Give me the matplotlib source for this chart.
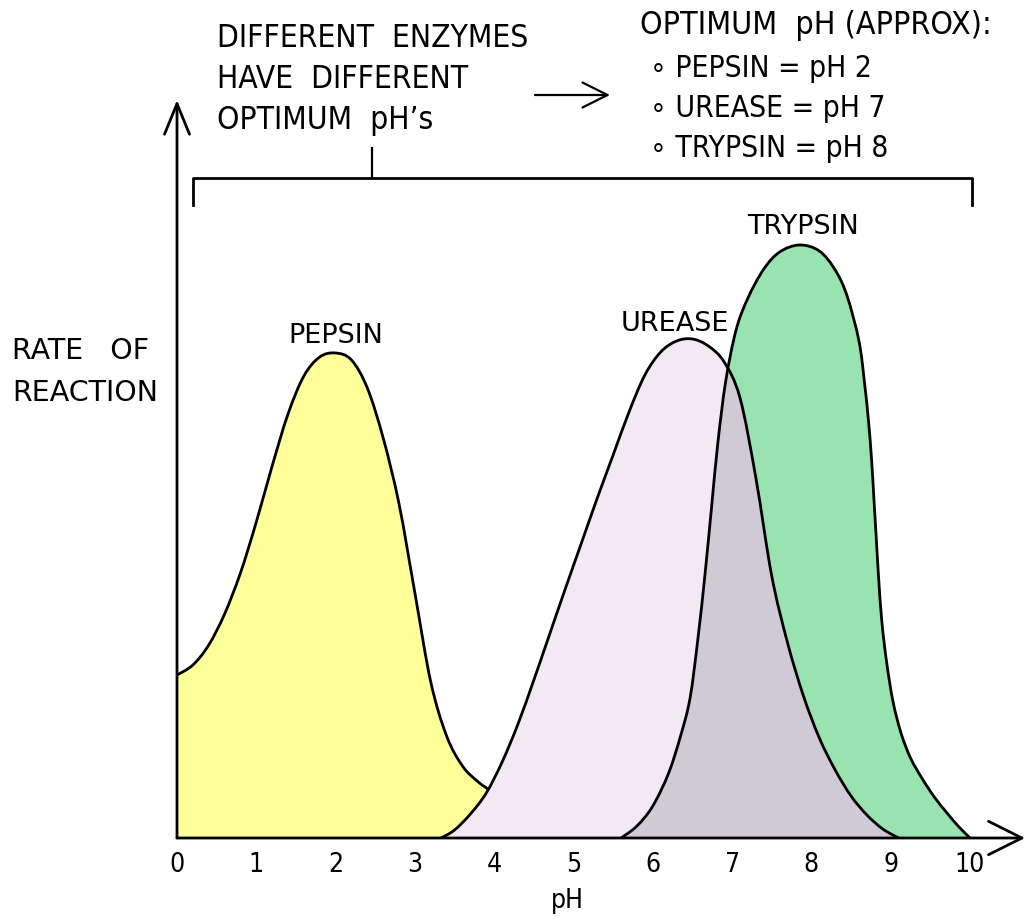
import numpy as np
import matplotlib
matplotlib.use('Agg')
import matplotlib.pyplot as plt
from matplotlib.patches import PathPatch
from matplotlib.path import Path

# values: pH against rate of reaction (arbitrary units)
pepsin_ph = [0.0, 0.2, 0.4, 0.6, 0.8, 1.0, 1.2, 1.4, 1.6, 1.8, 2.0, 2.2,
             2.4, 2.6, 2.8, 3.0, 3.2, 3.4, 3.6, 3.8, 4.0, 4.3, 4.8]
pepsin_rate = [16.3, 17.3, 19.3, 22.4, 26.5, 31.6, 37.2, 42.4, 46.2, 48.1, 48.5, 47.8,
               45.0, 40.0, 33.4, 24.5, 15.6, 10.2, 7.2, 5.6, 4.5, 3.0, 1.2]

urease_ph = [3.33, 3.5, 3.7, 3.9, 4.1, 4.3, 4.5, 4.7, 4.9, 5.1, 5.3, 5.5, 5.7, 5.9,
             6.1, 6.3, 6.5, 6.7, 6.9, 7.1, 7.3, 7.5, 7.7, 7.9, 8.1, 8.3, 8.5, 8.7,
             8.9, 9.1]
urease_rate = [0.0, 0.8, 2.4, 4.5, 7.6, 11.4, 15.8, 20.4, 25.0, 29.5, 34.0, 38.3, 42.6,
               46.3, 48.6, 49.7, 49.9, 49.2, 47.6, 44.0, 36.0, 26.2, 19.5, 14.2, 10.0,
               6.8, 4.2, 2.3, 0.9, 0.0]

trypsin_ph = [5.6, 5.8, 6.0, 6.2, 6.35, 6.47, 6.57, 6.66, 6.74, 6.82, 6.92, 7.05, 7.2,
              7.4, 7.6, 7.85, 8.1, 8.3, 8.45, 8.6, 8.67, 8.72, 8.76, 8.79, 8.82, 8.85,
              8.89, 8.95, 9.03, 9.13, 9.25, 9.4, 9.55, 9.7, 9.85, 10.0]
trypsin_rate = [0.0, 1.2, 3.2, 6.5, 10.2, 14.0, 20.0, 26.5, 33.0, 39.5, 45.7, 50.8, 54.0,
                56.9, 58.6, 59.3, 58.7, 56.8, 54.2, 49.7, 45.5, 41.7, 37.7, 33.7, 29.7,
                25.7, 21.5, 17.5, 13.6, 10.5, 8.0, 5.9, 4.1, 2.6, 1.2, 0.0]

ph_ticks = list(range(0, 11))
optimum_lines = ['OPTIMUM  pH (APPROX):', '∘ PEPSIN = pH 2',
                 '∘ UREASE = pH 7', '∘ TRYPSIN = pH 8']
note_lines = ['DIFFERENT  ENZYMES', 'HAVE  DIFFERENT', 'OPTIMUM  pH\u2019s']

HAND = dict(family=['DejaVu Sans'], stretch='condensed')
ROUND = dict(family=['DejaVu Sans'])

W, H = 1029, 917
fig = plt.figure(figsize=(W / 100, H / 100), dpi=100)
ax = fig.add_axes([177 / W, 79 / H, 852 / W, 748 / H])
ax.set_xlim(0, 852 / 79.3)
ax.set_ylim(0, 74.8)
ax.axis('off')


def fpos(x, y):
    # pixel position (from top left) -> figure fraction
    return x / W, 1 - y / H


def curve(ph, rate, closed):
    # smooth (catmull-rom) path through the read points
    pts = np.column_stack([ph, rate])
    n = len(pts)
    verts = [pts[0]]
    codes = [Path.MOVETO]
    for i in range(n - 1):
        p0 = pts[max(i - 1, 0)]
        p1, p2 = pts[i], pts[i + 1]
        p3 = pts[min(i + 2, n - 1)]
        verts += [p1 + (p2 - p0) / 6, p2 - (p3 - p1) / 6, p2]
        codes += [Path.CURVE4] * 3
    if closed:
        verts += [(ph[-1], 0), (ph[0], 0), (ph[0], rate[0])]
        codes += [Path.LINETO, Path.LINETO, Path.CLOSEPOLY]
    return Path(np.array(verts), codes)


def outline(ph, rate, z):
    ax.add_patch(PathPatch(curve(ph, rate, False), fill=False, ec='black', lw=2, zorder=z,
                           capstyle='round'))


pep = PathPatch(curve(pepsin_ph, pepsin_rate, True), fc='#ffff99', ec='none', zorder=1)
ax.add_patch(pep)
outline(pepsin_ph, pepsin_rate, 1.5)

tryp = PathPatch(curve(trypsin_ph, trypsin_rate, True), fc='#99e3b0', ec='none', zorder=2)
ax.add_patch(tryp)
ure = PathPatch(curve(urease_ph, urease_rate, True), fc='#f5e8f5', ec='none', zorder=3)
ax.add_patch(ure)
# where urease and trypsin overlap
both = PathPatch(curve(trypsin_ph, trypsin_rate, True), fc='#d0c9d6', ec='none', zorder=4)
ax.add_patch(both)
both.set_clip_path(ure)

outline(urease_ph, urease_rate, 5)
outline(trypsin_ph, trypsin_rate, 5)

# axes as arrows
ax.annotate('', xy=(848 / 79.3, 0), xytext=(0, 0),
            arrowprops=dict(arrowstyle='->,head_length=1.2,head_width=0.6', lw=2,
                            color='black', shrinkA=0, shrinkB=0, mutation_scale=20),
            annotation_clip=False, zorder=6)
ax.annotate('', xy=(0, 73.8), xytext=(0, 0),
            arrowprops=dict(arrowstyle='->,head_length=1.1,head_width=0.45', lw=2,
                            color='black', shrinkA=0, shrinkB=0, mutation_scale=20),
            annotation_clip=False, zorder=6)

for t in ph_ticks:
    ax.text(t, -3.4, str(t), ha='center', va='baseline', fontsize=19, clip_on=False, **HAND)
fig.text(*fpos(567, 908), 'pH', ha='center', va='baseline', fontsize=19, **HAND)

fig.text(*fpos(12, 359), 'RATE   OF', ha='left', va='baseline', fontsize=20.5, **ROUND)
fig.text(*fpos(12, 401), 'REACTION', ha='left', va='baseline', fontsize=20.5, **ROUND)

# curve labels
ax.text(pepsin_ph[np.argmax(pepsin_rate)], 49.5, 'PEPSIN', ha='center', va='baseline',
        fontsize=19.5, **ROUND)
ax.text(6.28, 50.7, 'UREASE', ha='center', va='baseline', fontsize=19.5, **ROUND)
ax.text(7.9, 60.4, 'TRYPSIN', ha='center', va='baseline', fontsize=19.5, **ROUND)

# notes at the top
for i, s in enumerate(note_lines):
    fig.text(*fpos(217, 47 + 41 * i), s, ha='left', va='baseline', fontsize=22.8, **HAND)
fig.text(*fpos(640, 34), optimum_lines[0], ha='left', va='baseline', fontsize=23, **HAND)
for i, s in enumerate(optimum_lines[1:]):
    fig.text(*fpos(650, 77 + 40 * i), s, ha='left', va='baseline', fontsize=21.5, **HAND)

ax.annotate('', xy=((610 - 177) / 79.3, 74.3), xytext=((535 - 177) / 79.3, 74.3),
            arrowprops=dict(arrowstyle='->,head_length=0.9,head_width=0.45', lw=1.6,
                            color='black', shrinkA=0, shrinkB=0, mutation_scale=20),
            annotation_clip=False)

# bracket over the curves
bx0, bx1, bstem = (193 - 177) / 79.3, (972 - 177) / 79.3, (372 - 177) / 79.3
ax.plot([bx0, bx0, bx1, bx1], [63.3, 66.0, 66.0, 63.3], color='black', lw=2, clip_on=False)
ax.plot([bstem, bstem], [66.0, 69.0], color='black', lw=1.6, clip_on=False)

fig.savefig('out.png', dpi=100)
